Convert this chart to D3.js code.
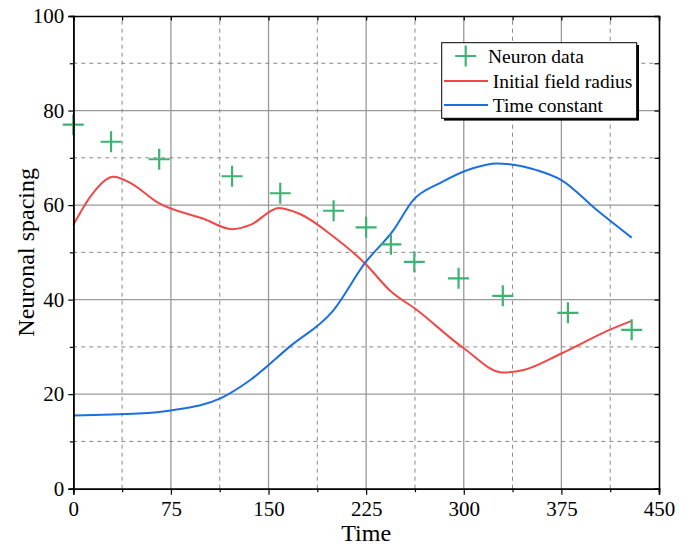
<html>

<head>
    <title>Neuronal spacing</title>
    <script src="https://d3js.org/d3.v7.min.js"></script>
    <style>
        body { margin: 0; background: #fff; }
        svg text { font-family: "Liberation Serif", "Times New Roman", Times, serif !important; fill: #000; }
    </style>
</head>

<body>
    <div id="myPlot"></div>
    <script>
        // data
        var neuronTime = [0, 29, 66, 122, 159, 200, 225, 244, 262, 296, 330, 380, 429];
        var neuronSpacing = [77.0, 73.4, 69.7, 66.1, 62.5, 58.8, 55.3, 51.7, 48.0, 44.5, 40.8, 37.2, 33.6];

        var radiusTime = [0, 15, 31, 45, 64, 100, 122, 136, 158, 175, 200, 224, 243, 264, 300, 330, 346, 375, 412, 429];
        var radiusSpacing = [55.8, 62.5, 66, 64.5, 60.7, 57.1, 54.9, 55.8, 59.4, 58, 53.3, 47.7, 42, 37.8, 29.7, 24.6, 25.1, 28.6, 33.6, 35.5];

        var constTime = [0, 50, 76, 113, 136, 166, 200, 224, 246, 261, 282, 307, 325, 356, 375, 402, 429];
        var constSpacing = [15.5, 15.9, 16.6, 19.1, 23.0, 30.0, 37.8, 47.7, 54.7, 61, 64.7, 67.8, 68.8, 67.4, 65.3, 59, 53.1];

        var xTicks = [0, 75, 150, 225, 300, 375, 450];
        var xMinor = [37.5, 112.5, 187.5, 262.5, 337.5, 412.5];
        var yTicks = [0, 20, 40, 60, 80, 100];
        var yMinor = [10, 30, 50, 70, 90];

        var legendNames = ["Neuron data", "Initial field radius", "Time constant"];

        var width = 694, height = 546;
        var margin = { left: 73.3, right: 35, top: 16, bottom: 57.3 };
        var green = "#3cb371", red = "#f04848", blue = "#1c6fe0";
        var serif = "Liberation Serif, Times New Roman, serif";

        var svg = d3.select("#myPlot").append("svg")
            .attr("width", width)
            .attr("height", height)
            .attr("font-family", serif);

        var xScale = d3.scaleLinear().domain([0, 450]).range([margin.left, width - margin.right]);
        var yScale = d3.scaleLinear().domain([0, 100]).range([height - margin.bottom, margin.top]);

        var x0 = xScale(0), x1 = xScale(450), y0 = yScale(0), y1 = yScale(100);

        // grid lines
        var grid = svg.append("g");
        grid.selectAll(".vmaj").data(xTicks.slice(1, -1)).enter().append("line")
            .attr("x1", xScale).attr("x2", xScale).attr("y1", y0).attr("y2", y1)
            .attr("stroke", "#999").attr("stroke-width", 1.3);
        grid.selectAll(".hmaj").data(yTicks.slice(1, -1)).enter().append("line")
            .attr("y1", yScale).attr("y2", yScale).attr("x1", x0).attr("x2", x1)
            .attr("stroke", "#999").attr("stroke-width", 1.3);
        grid.selectAll(".vmin").data(xMinor).enter().append("line")
            .attr("x1", xScale).attr("x2", xScale).attr("y1", y0).attr("y2", y1)
            .attr("stroke", "#888").attr("stroke-width", 1).attr("stroke-dasharray", "4,4");
        grid.selectAll(".hmin").data(yMinor).enter().append("line")
            .attr("y1", yScale).attr("y2", yScale).attr("x1", x0).attr("x2", x1)
            .attr("stroke", "#888").attr("stroke-width", 1).attr("stroke-dasharray", "4,4");

        // curves
        var line = d3.line()
            .x(function (d) { return xScale(d[0]); })
            .y(function (d) { return yScale(d[1]); })
            .curve(d3.curveMonotoneX);

        svg.append("path")
            .datum(d3.zip(radiusTime, radiusSpacing))
            .attr("d", line)
            .attr("fill", "none").attr("stroke", red).attr("stroke-width", 2);

        svg.append("path")
            .datum(d3.zip(constTime, constSpacing))
            .attr("d", line)
            .attr("fill", "none").attr("stroke", blue).attr("stroke-width", 2);

        // neuron data crosses
        svg.selectAll(".pt").data(d3.zip(neuronTime, neuronSpacing)).enter().append("path")
            .attr("transform", function (d) { return "translate(" + xScale(d[0]) + "," + yScale(d[1]) + ")"; })
            .attr("d", "M-10.5,0H10.5M0,-10.5V10.5")
            .attr("stroke", green).attr("stroke-width", 2.2).attr("fill", "none");

        // axes
        svg.append("g").attr("transform", "translate(0," + y0 + ")")
            .call(d3.axisBottom(xScale).tickValues(xTicks).tickSize(6).tickPadding(6).tickFormat(d3.format("d")));
        svg.append("g").attr("transform", "translate(0," + y0 + ")")
            .call(d3.axisBottom(xScale).tickValues(xMinor).tickSize(3.5).tickFormat(""));
        svg.append("g").attr("transform", "translate(" + x0 + ",0)")
            .call(d3.axisLeft(yScale).tickValues(yTicks).tickSize(5).tickPadding(4));
        svg.append("g").attr("transform", "translate(" + x0 + ",0)")
            .call(d3.axisLeft(yScale).tickValues(yMinor).tickSize(3.5).tickFormat(""));
        svg.append("g").attr("transform", "translate(0," + y1 + ")")
            .call(d3.axisBottom(xScale).tickValues(xTicks.concat(xMinor)).tickSize(4.5).tickFormat(""));
        svg.append("g").attr("transform", "translate(" + x1 + ",0)")
            .call(d3.axisLeft(yScale).tickValues(yTicks.concat(yMinor)).tickSize(4.5).tickFormat(""));

        svg.selectAll("g").attr("font-family", serif);
        svg.selectAll(".domain").attr("stroke", "#000").attr("stroke-width", 1.6);
        svg.selectAll(".tick line").attr("stroke", "#000").attr("stroke-width", 1.2);
        svg.selectAll(".tick text").attr("font-size", 21);

        // axis titles
        svg.append("text")
            .attr("x", (x0 + x1) / 2).attr("y", 541)
            .attr("text-anchor", "middle")
            .attr("font-size", 24)
            .text("Time");
        svg.append("text")
            .attr("transform", "translate(34," + (y0 + y1) / 2 + ") rotate(-90)")
            .attr("text-anchor", "middle")
            .attr("font-size", 24)
            .text("Neuronal spacing");

        // legend
        var lg = svg.append("g");
        lg.append("rect").attr("x", 444).attr("y", 45).attr("width", 195).attr("height", 75.6).attr("fill", "#000");
        lg.append("rect").attr("x", 441.7).attr("y", 42.7).attr("width", 195).attr("height", 75.6)
            .attr("fill", "#fff").attr("stroke", "#000").attr("stroke-width", 1);
        var rowY = [56, 81, 105];
        lg.append("path")
            .attr("transform", "translate(465.7," + rowY[0] + ")")
            .attr("d", "M-10.5,0H10.5M0,-10.5V10.5")
            .attr("stroke", green).attr("stroke-width", 2.2);
        lg.append("line").attr("x1", 444).attr("x2", 488).attr("y1", rowY[1]).attr("y2", rowY[1])
            .attr("stroke", red).attr("stroke-width", 2);
        lg.append("line").attr("x1", 444).attr("x2", 488).attr("y1", rowY[2]).attr("y2", rowY[2])
            .attr("stroke", blue).attr("stroke-width", 2);
        lg.selectAll(".lt").data(legendNames).enter().append("text")
            .attr("x", function (d, i) { return i == 0 ? 488 : 492.7; })
            .attr("y", function (d, i) { return rowY[i] + 6.5; })
            .attr("font-size", 19.5)
            .text(function (d) { return d; });
    </script>
</body>

</html>
